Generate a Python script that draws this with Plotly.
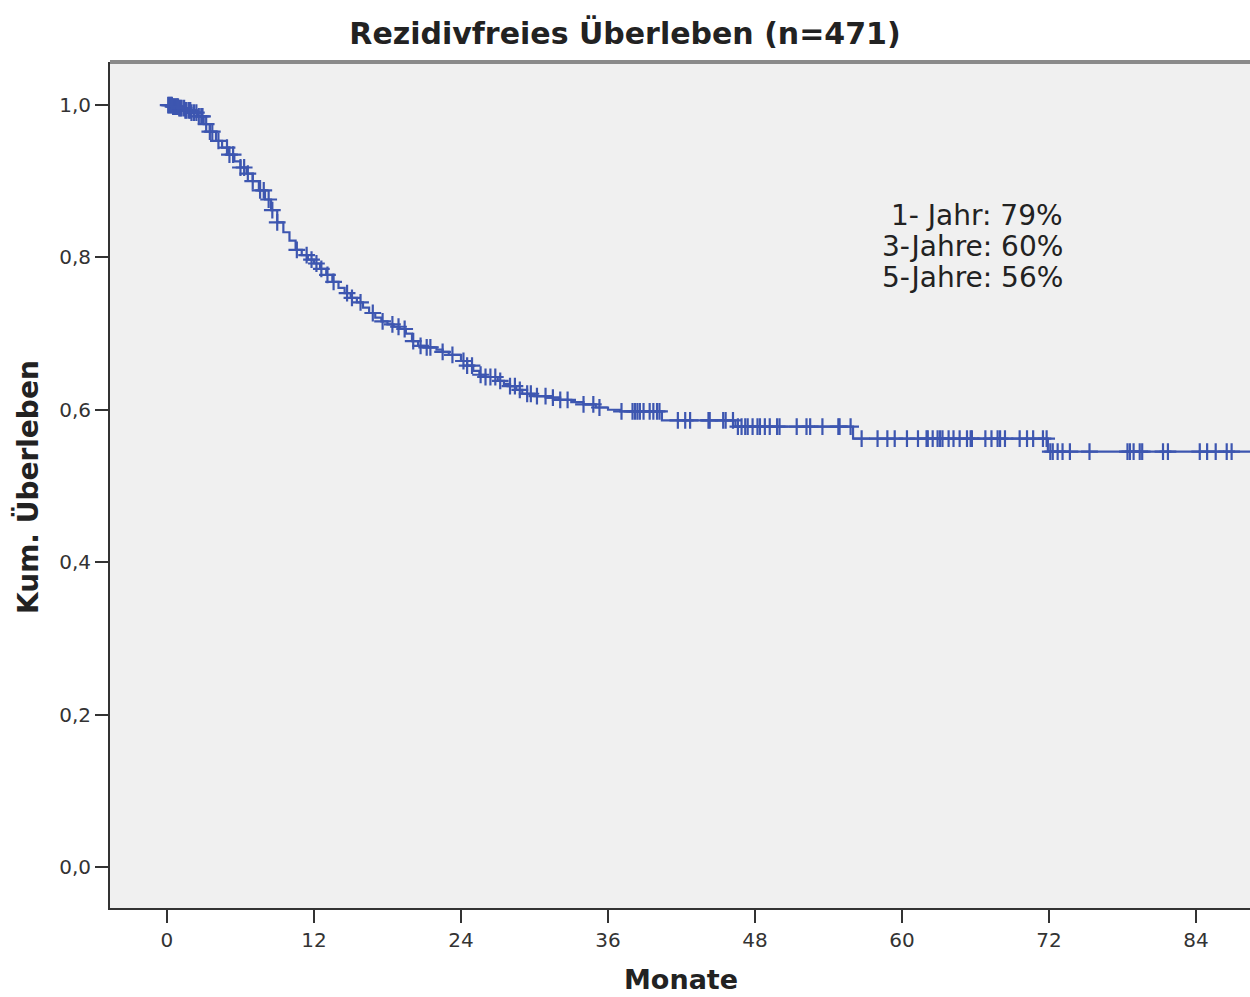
import numpy as np
import plotly.graph_objects as go

# Kaplan-Meier step curve (months, cumulative survival)
step_times = [0, 0.5, 1.0, 1.5, 2.0, 2.5, 3.0, 3.5, 4.0, 4.5, 5.0, 5.5, 6.0, 6.5, 7.0, 7.5,
              8.0, 8.5, 9.0, 9.5, 10.0, 10.5, 11.0, 11.5, 12.0, 12.5, 13.0, 13.5, 14.0, 14.5,
              15.0, 15.5, 16.0, 16.5, 17.0, 17.5, 18.0, 18.5, 19.0, 19.5, 20.0, 20.5, 21.0,
              22.0, 22.5, 23.0, 24.0, 24.5, 25.0, 25.5, 26.0, 27.0, 27.5, 28.0, 28.5, 29.0,
              30.0, 31.0, 32.0, 33.0, 34.0, 35.0, 36.0, 37.0, 40.4, 46.4, 56.0, 71.9, 89.0]
step_surv = [1.000, 0.998, 0.996, 0.993, 0.990, 0.985, 0.975, 0.965, 0.953, 0.944, 0.935,
             0.926, 0.918, 0.910, 0.900, 0.888, 0.876, 0.862, 0.846, 0.833, 0.822, 0.810,
             0.803, 0.797, 0.792, 0.785, 0.777, 0.768, 0.760, 0.753, 0.747, 0.741, 0.734,
             0.727, 0.721, 0.716, 0.712, 0.709, 0.706, 0.700, 0.690, 0.684, 0.682, 0.679,
             0.676, 0.672, 0.664, 0.658, 0.651, 0.646, 0.643, 0.638, 0.634, 0.631, 0.626,
             0.621, 0.618, 0.616, 0.613, 0.610, 0.607, 0.603, 0.600, 0.598, 0.586, 0.578,
             0.562, 0.545, 0.545]

# censored observations (months)
censor_times = [0.1, 0.2, 0.3, 0.4, 0.5, 0.6, 0.7, 0.8, 0.9, 1.0, 1.1, 1.2, 1.4, 1.5, 1.6,
                1.8, 1.9, 2.0, 2.2, 2.4, 2.6, 2.8, 2.9, 3.2, 3.5, 3.7, 4.2, 4.9, 5.1, 5.4,
                6.0, 6.3, 6.6, 7.0, 7.6, 7.9, 8.3, 8.6, 9.0, 10.6, 11.4, 11.8, 12.2, 12.6,
                13.1, 13.6, 14.7, 15.1, 15.8, 16.8, 17.6, 18.4, 18.9, 19.4, 20.1, 20.7,
                21.2, 21.5, 22.5, 23.3, 24.2, 24.5, 24.9, 25.6, 26.0, 26.4, 26.8, 27.2,
                28.0, 28.4, 28.8, 29.4, 29.7, 30.2, 30.9, 31.5, 32.1, 32.7, 34.0, 34.8,
                35.3, 37.1, 38.0, 38.2, 38.4, 38.6, 38.9, 39.4, 39.7, 40.0, 40.2, 41.7,
                42.3, 42.7, 44.2, 44.3, 45.4, 45.6, 46.2, 46.6, 46.9, 47.2, 47.4, 47.8,
                48.2, 48.4, 48.8, 49.2, 49.8, 50.0, 51.4, 52.2, 52.5, 53.5, 54.8, 54.9,
                55.8, 56.7, 58.0, 58.8, 59.4, 60.4, 61.3, 62.0, 62.1, 62.5, 62.9, 63.1,
                63.3, 63.8, 64.2, 64.7, 65.3, 65.6, 65.7, 66.8, 67.3, 67.8, 68.0, 68.4,
                69.6, 70.2, 70.7, 71.5, 71.8, 72.1, 72.3, 72.7, 73.1, 73.7, 75.3, 78.4,
                78.6, 78.9, 79.4, 79.6, 81.3, 81.7, 84.3, 84.9, 85.6, 86.5, 86.9]

x_ticks = [0, 12, 24, 36, 48, 60, 72, 84]
y_ticks = [0.0, 0.2, 0.4, 0.6, 0.8, 1.0]

title_text = "Rezidivfreies Überleben (n=471)"
x_title = "Monate"
y_title = "Kum. Überleben"
rate_lines = ["1- Jahr: 79%", "3-Jahre: 60%", "5-Jahre: 56%"]

BLUE = "#3d56b0"
FONT = "DejaVu Sans"
TXT = "#222222"

st = np.array(step_times)
ss = np.array(step_surv)
ct = np.array(censor_times)
cs = ss[np.searchsorted(st, ct, side="right") - 1]

fig = go.Figure()
fig.add_trace(go.Scatter(x=st, y=ss, mode="lines", line=dict(color=BLUE, width=2.2, shape="hv"),
                         showlegend=False, hoverinfo="skip"))
fig.add_trace(go.Scatter(x=ct, y=cs, mode="markers",
                         marker=dict(symbol="cross-thin", size=12, color=BLUE,
                                     line=dict(color=BLUE, width=2.2)),
                         showlegend=False))

W, H = 1250, 997
L, R, T, B = 110, 0, 62, 89
pw, ph = W - L - R, H - T - B

fig.update_layout(
    width=W, height=H,
    margin=dict(l=L, r=R, t=T, b=B),
    paper_bgcolor="white", plot_bgcolor="#f0f0f0",
    separators=",.",
    font=dict(family=FONT, color=TXT, size=20),
    title=dict(text="<b>" + title_text + "</b>", x=0.5, xref="container", xanchor="center",
               y=1 - 33 / H, yref="container", yanchor="middle",
               font=dict(family=FONT, size=30, color=TXT)),
)
fig.update_xaxes(range=[-4.65, 88.4], tickmode="array", tickvals=x_ticks,
                 showgrid=False, zeroline=False, showline=True, linecolor="#333333",
                 linewidth=2, ticks="outside", ticklen=13, tickwidth=2, tickcolor="#333333",
                 tickfont=dict(family=FONT, size=20, color="#333333"))
fig.update_yaxes(range=[-0.054, 1.0565], tickmode="array", tickvals=y_ticks, tickformat=".1f",
                 showgrid=False, zeroline=False, showline=True, linecolor="#333333",
                 linewidth=2, ticks="outside", ticklen=13, tickwidth=2, tickcolor="#333333",
                 tickfont=dict(family=FONT, size=20, color="#333333"))

# top border
fig.add_shape(type="line", xref="paper", yref="paper", x0=0, x1=1, y0=1, y1=1,
              line=dict(color="#8a8a8a", width=4))

fig.add_annotation(text="<b>" + x_title + "</b>", xref="paper", yref="paper",
                   x=(681 - L) / pw, y=-(979 - (T + ph)) / ph, showarrow=False,
                   xanchor="center", yanchor="middle", font=dict(family=FONT, size=27, color=TXT))
fig.add_annotation(text="<b>" + y_title + "</b>", xref="paper", yref="paper",
                   x=-(L - 28) / pw, y=(T + ph - 487) / ph, showarrow=False, textangle=-90,
                   xanchor="center", yanchor="middle", font=dict(family=FONT, size=28, color=TXT))

rate_y = [0.8554, 0.8147, 0.774]
for txt, yy in zip(rate_lines, rate_y):
    fig.add_annotation(text=txt, x=73.3, y=yy, xref="x", yref="y", showarrow=False,
                       xanchor="right", yanchor="middle",
                       font=dict(family=FONT, size=28, color=TXT))

fig.write_html("out.html")
